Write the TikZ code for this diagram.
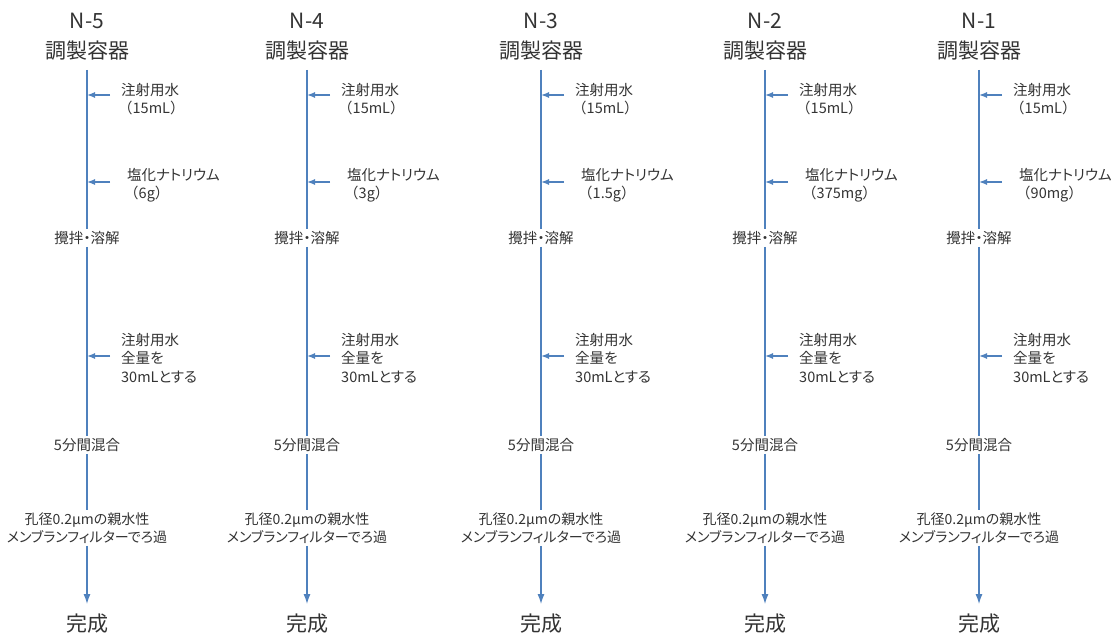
\documentclass[tikz,border=0pt]{standalone}
\usepackage{fontspec}
\setmainfont{Noto Sans CJK JP}[RawFeature=+palt]
\newfontfamily\fullwidth{Noto Sans CJK JP}
\newcommand\fwparen[1]{{\fullwidth （}#1{\fullwidth ）}}
\usetikzlibrary{arrows.meta}
\definecolor{flowblue}{RGB}{79,129,189}
\begin{document}
\begin{tikzpicture}[x=1pt,y=-1pt,
    big/.style={text=black!80, font={\fontsize{21}{24}\selectfont}, inner sep=1pt},
    small/.style={text=black!80, font={\fontsize{14.5}{18.5}\selectfont}, align=left, inner sep=1pt},
    onflow/.style={small, align=center, fill=white, inner sep=2pt},
    flow/.style={flowblue, line width=1.3pt},
    feed/.style={flow, -{Latex[length=8pt,width=6pt]}}]
    \useasboundingbox (0,0) rectangle (1115,639);
    \foreach \name/\x/\salt [count=\i] in {N-5/87/6g, N-4/307/3g, N-3/541/1.5g, N-2/765/375mg, N-1/979/90mg} {
        % Header
        \node[big] (head\i) at (\x,21) {\name};
        \node[big] (vessel\i) at (\x,51) {調製容器};
        % Steps on the line
        \node[onflow] (stir\i) at (\x,238) {攪拌・溶解};
        \node[onflow] (mix\i) at (\x,445) {5分間混合};
        \node[onflow, font={\fontsize{14}{18.5}\selectfont}] (filt\i) at (\x,528) {孔径0.2μmの親水性\\メンブランフィルターでろ過};
        \node[big] (done\i) at (\x,624) {完成};
        % Inputs
        \node[small, anchor=west] (water\i) at (\x+30,99) {\hspace*{3pt}注射用水\\\fwparen{15mL}};
        \node[small, anchor=west] (nacl\i) at (\x+36,185) {\hspace*{3pt}塩化ナトリウム\\\fwparen{\salt}};
        \node[small, anchor=west] (fill\i) at (\x+33,358) {注射用水\\全量を\\30mLとする};
        \coordinate (wsrc\i) at (\x+23,95);
        \coordinate (wdst\i) at (\x,95);
        \coordinate (nsrc\i) at (\x+23,182);
        \coordinate (ndst\i) at (\x,182);
        \coordinate (fsrc\i) at (\x+23,356);
        \coordinate (fdst\i) at (\x,356);
        % Flow
        \draw[flow, shorten <=8pt] (vessel\i) -- (stir\i);
        \draw[flow] (stir\i) -- (mix\i);
        \draw[flow] (mix\i) -- (filt\i);
        \draw[flow, -{Latex[length=10pt,width=7pt]}, shorten >=9pt] (filt\i) -- (done\i);
        \draw[feed] (wsrc\i) -- (wdst\i);
        \draw[feed] (nsrc\i) -- (ndst\i);
        \draw[feed] (fsrc\i) -- (fdst\i);
    }
\end{tikzpicture}
\end{document}
